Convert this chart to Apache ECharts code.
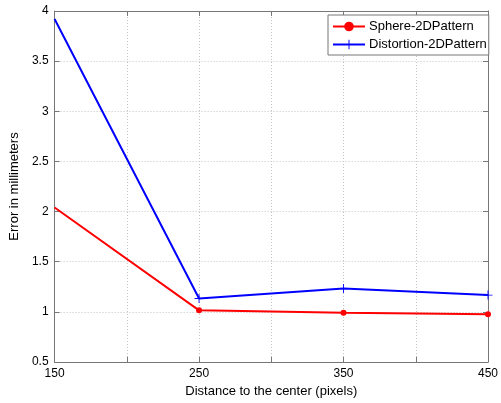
<!DOCTYPE html>
<html><head><meta charset="utf-8">
<script src="https://cdn.jsdelivr.net/npm/echarts@6/dist/echarts.min.js"></script>
<style>html,body{margin:0;padding:0;background:#fff}#c{width:501px;height:403px}</style>
</head><body><div id="c"></div>
<script>
const distances = [150, 250, 350, 450];
const sphere = [2.04, 1.015, 0.99, 0.975];
const distortion = [3.92, 1.133, 1.232, 1.167];
const seriesNames = ['Sphere-2DPattern', 'Distortion-2DPattern'];
const xLabels = [150, 250, 350, 450];

const font = '"Liberation Sans", Arial, sans-serif';
const plus = 'path://M-0.5,-5h1v4.5h4.5v1h-4.5v4.5h-1v-4.5h-4.5v-1h4.5z';
const chart = echarts.init(document.getElementById('c'));
const axisCommon = {
  axisLine: {show: true, lineStyle: {color: '#777', width: 1}},
  axisTick: {show: true, inside: true, length: 5, lineStyle: {color: '#777'}},
};
const toData = vals => distances.map((d, i) => i === 0 ? {value: [d, vals[i]], symbol: 'none'} : [d, vals[i]]);
chart.setOption({
  animation: false,
  textStyle: {fontFamily: font},
  grid: {left: 44, right: 8, top: 11, bottom: 37},
  legend: {
    left: 328, top: 15, orient: 'vertical',
    backgroundColor: '#fff', borderColor: '#777', borderWidth: 1,
    padding: [5, 2, 4, 4], itemGap: 5, itemWidth: 32, itemHeight: 12,
    textStyle: {fontSize: 13, color: '#000', fontFamily: font, padding: [0, 0, 0, -1]},
    data: seriesNames
  },
  xAxis: [{
    type: 'value', min: 150, max: 450, interval: 50,
    name: 'Distance to the center (pixels)', nameLocation: 'middle', nameGap: 23,
    nameTextStyle: {fontSize: 13, color: '#000'},
    ...axisCommon,
    axisLabel: {color: '#000', fontSize: 12, margin: 6,
      formatter: v => xLabels.includes(v) ? String(v) : ''},
    splitLine: {show: true, lineStyle: {color: '#c4c4c4', type: [1, 2], width: 1}}
  }, {
    type: 'value', min: 150, max: 450, interval: 50, position: 'top',
    ...axisCommon, axisLabel: {show: false}, splitLine: {show: false}
  }],
  yAxis: [{
    type: 'value', min: 0.5, max: 4, interval: 0.5,
    name: 'Error in millimeters', nameLocation: 'middle', nameGap: 20,
    nameTextStyle: {fontSize: 13, color: '#000'},
    ...axisCommon,
    axisLabel: {color: '#000', fontSize: 12, margin: 6},
    splitLine: {show: true, lineStyle: {color: '#c4c4c4', type: [1, 2], width: 1}}
  }, {
    type: 'value', min: 0.5, max: 4, interval: 0.5, position: 'right',
    ...axisCommon, axisLabel: {show: false}, splitLine: {show: false}
  }],
  series: [{
    name: seriesNames[0], type: 'line',
    data: toData(sphere),
    color: '#ff0000', lineStyle: {width: 2, color: '#ff0000'},
    symbol: 'circle', symbolSize: 6, itemStyle: {color: '#ff0000'}
  }, {
    name: seriesNames[1], type: 'line',
    data: toData(distortion),
    color: '#0000ff', lineStyle: {width: 2, color: '#0000ff'},
    symbol: plus, symbolSize: 9, itemStyle: {color: '#0000ff'}
  }]
});
</script></body></html>
